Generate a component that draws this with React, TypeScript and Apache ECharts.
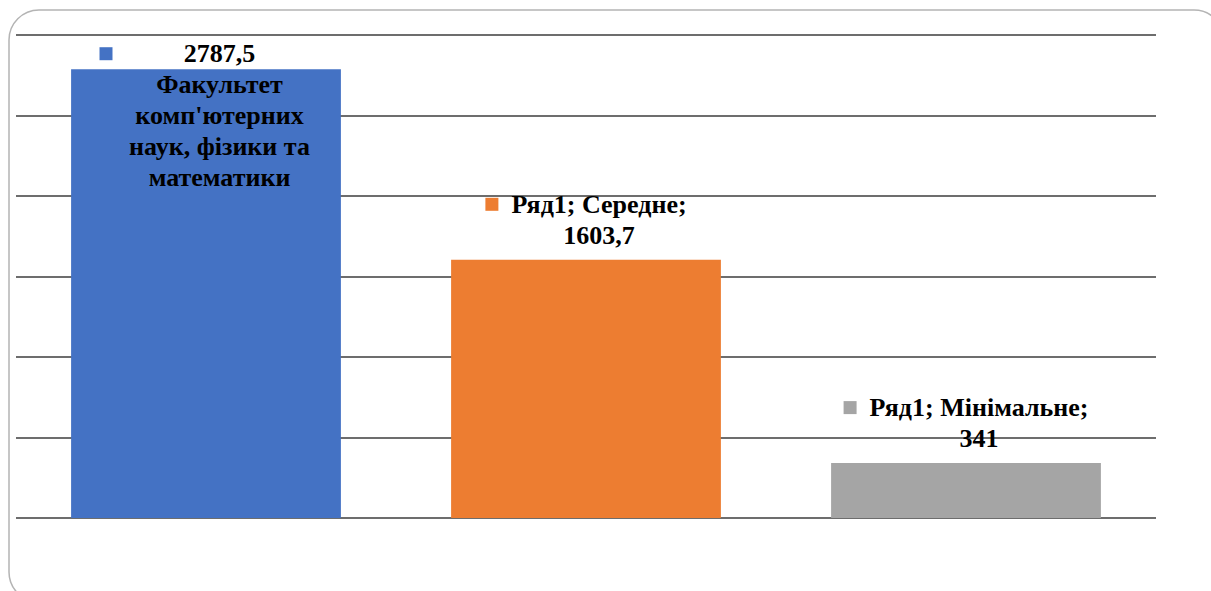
import React, { useEffect, useRef } from "react";
import * as echarts from "echarts";

const categories = ["Максимальне", "Середне", "Мінімальне"];
const values = [2787.5, 1603.7, 341];
const seriesName = "Ряд1";
const barColors = ["#4472C4", "#ED7D31", "#A5A5A5"];
const firstLabelLines = ["Факультет", "комп'ютерних", "наук, фізики та", "математики"];
const yMin = 0;
const yMax = 3000;
const yInterval = 500;

const fmt = (v: number) => String(v).replace(".", ",");

const textStyle = {
  fontFamily: "Liberation Serif",
  fontWeight: "bold" as const,
  fontSize: 26,
  color: "#000000",
  lineHeight: 31,
  align: "center" as const,
};

function richFor(color: string, gap: number) {
  return {
    sq: { width: 13, height: 13, backgroundColor: color, align: "center" as const },
    gap: { width: gap, align: "center" as const },
    pad: { width: 13 + gap, align: "center" as const },
    t: { ...textStyle },
    tw: { ...textStyle, width: 186 },
  };
}

export default function App() {
  const ref = useRef<HTMLDivElement>(null);
  useEffect(() => {
    if (!ref.current) return;
    const chart = echarts.init(ref.current, undefined, { renderer: "svg" });

    const data = values.map((v, i) => {
      if (i === 0) {
        return {
          value: v,
          itemStyle: { color: barColors[i] },
          label: {
            show: true,
            position: ["50%", -31],
            align: "center",
            verticalAlign: "top",
            fontFamily: "Liberation Serif",
            fontWeight: "bold",
            fontSize: 26,
            formatter:
              `{sq|}{gap|}{tw|${fmt(v)}}\n` +
              firstLabelLines.map((l) => `{pad|}{t|${l}}`).join("\n"),
            rich: richFor(barColors[i], 14),
          },
        };
      }
      return {
        value: v,
        itemStyle: { color: barColors[i] },
        label: {
          show: true,
          position: "top",
          distance: 9,
          fontFamily: "Liberation Serif",
          fontWeight: "bold",
          fontSize: 26,
          formatter: `{sq|}{gap|}{t|${seriesName}; ${categories[i]};}\n{pad|}{t|${fmt(v)}}`,
          rich: richFor(barColors[i], 13),
        },
      };
    });

    chart.setOption({
      animation: false,
      backgroundColor: "#ffffff",
      grid: { left: 16, right: 55, top: 35, bottom: 73, containLabel: false },
      xAxis: {
        type: "category",
        data: categories,
        axisLine: { show: false },
        axisTick: { show: false },
        axisLabel: { show: false },
      },
      yAxis: {
        type: "value",
        min: yMin,
        max: yMax,
        interval: yInterval,
        axisLine: { show: false },
        axisTick: { show: false },
        axisLabel: { show: false },
        splitLine: { show: true, lineStyle: { color: "#3c3c3c", width: 1.5 } },
      },
      series: [
        {
          name: seriesName,
          type: "bar",
          data,
          barWidth: "71%",
          z: 2,
        },
      ],
      graphic: [
        {
          type: "rect",
          shape: { x: 9, y: 10, width: 1215, height: 592, r: 30 },
          style: { fill: "none", stroke: "#b4b4b4", lineWidth: 1.5 },
          silent: true,
        },
      ],
    });
    return () => chart.dispose();
  }, []);
  return (
    <div
      ref={ref}
      style={{ position: "absolute", left: 0, top: 0, width: 1211, height: 591 }}
    />
  );
}
